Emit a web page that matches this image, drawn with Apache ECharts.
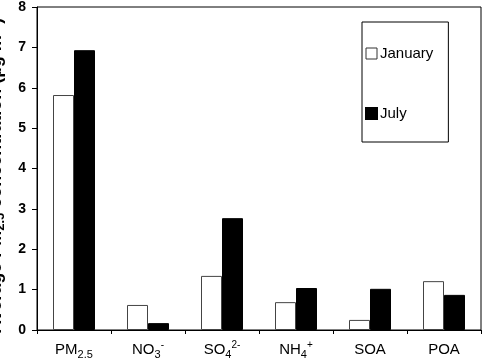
<!DOCTYPE html>
<html>
<head>
<meta charset="utf-8">
<script src="https://cdn.jsdelivr.net/npm/echarts@6/dist/echarts.min.js"></script>
<style>
  html, body { margin: 0; padding: 0; background: #fff; }
  #chart { width: 482px; height: 363px; }
</style>
</head>
<body>
<div id="chart"></div>
<script>
// species on x axis (rich-text keys used for sub/superscripts)
const categories = ["PM2.5", "NO3-", "SO42-", "NH4+", "SOA", "POA"];
const january = [5.82, 0.62, 1.34, 0.69, 0.25, 1.21];
const july = [6.93, 0.17, 2.77, 1.04, 1.02, 0.87];
const yTicks = [0, 1, 2, 3, 4, 5, 6, 7, 8];

const font = "Liberation Sans, Arial, sans-serif";

// category label -> rich text
const labelText = {
  "PM2.5": "{n|PM}{sub|2.5}",
  "NO3-": "{n|NO}{sub|3}{sup|-}",
  "SO42-": "{n|SO}{sub|4}{sup|2-}",
  "NH4+": "{n|NH}{sub|4}{sup|+}",
  "SOA": "{n|SOA}",
  "POA": "{n|POA}"
};

const chart = echarts.init(document.getElementById("chart"));
const option = {
  animation: false,
  backgroundColor: "#fff",
  textStyle: { fontFamily: font },
  grid: {
    left: 37, right: 1, top: 7, bottom: 33,
    show: true, borderColor: "#000", borderWidth: 1,
    outerBoundsMode: "none",
    containLabel: false
  },
  legend: {
    orient: "vertical",
    left: 362, top: 22,
    padding: [24, 15, 21, 3],
    itemGap: 45,
    itemWidth: 11, itemHeight: 11,
    borderColor: "#000", borderWidth: 1,
    backgroundColor: "#fff",
    textStyle: { fontFamily: font, fontSize: 15, color: "#000", padding: [0, 0, 0, -2] },
    data: [
      { name: "January", icon: "rect", itemStyle: { color: "#fff", borderColor: "#333", borderWidth: 1 } },
      { name: "July", icon: "rect", itemStyle: { color: "#000" } }
    ]
  },
  xAxis: {
    type: "category",
    data: categories,
    axisLine: { lineStyle: { color: "#000", width: 1 } },
    axisTick: { show: true, length: 4, lineStyle: { color: "#000" } },
    axisLabel: {
      interval: 0,
      margin: 10,
      formatter: v => labelText[v],
      rich: {
        n: { fontFamily: font, fontSize: 15, color: "#000", lineHeight: 20, verticalAlign: "middle" },
        sub: { fontFamily: font, fontSize: 11, color: "#000", lineHeight: 20, verticalAlign: "bottom", padding: [7, 0, 0, 0] },
        sup: { fontFamily: font, fontSize: 10, color: "#000", lineHeight: 20, verticalAlign: "top", padding: [0, 0, 7, 0] }
      }
    }
  },
  yAxis: {
    type: "value",
    min: yTicks[0], max: yTicks[yTicks.length - 1], interval: 1,
    name: "{n|Average PM}{sub|2.5}{n| concentration (\u00b5g m}{sup|-3}{n|)}",
    nameLocation: "middle",
    nameGap: 30,
    nameRotate: 90,
    nameTextStyle: {
      padding: [0, 14, 0, 0],
      rich: {
        n: { fontFamily: font, fontSize: 18, fontWeight: "bold", color: "#000", lineHeight: 22, verticalAlign: "middle" },
        sub: { fontFamily: font, fontSize: 13, fontWeight: "bold", color: "#000", lineHeight: 22, verticalAlign: "bottom", padding: [8, 0, 0, 0] },
        sup: { fontFamily: font, fontSize: 13, fontWeight: "bold", color: "#000", lineHeight: 22, verticalAlign: "top", padding: [0, 0, 8, 0] }
      }
    },
    axisLine: { show: true, lineStyle: { color: "#000", width: 1 } },
    axisTick: { show: true, inside: false, length: 5, lineStyle: { color: "#000" } },
    axisLabel: { margin: 11, fontFamily: font, fontSize: 14, fontWeight: "bold", color: "#000" },
    splitLine: { show: false }
  },
  series: [
    {
      name: "January",
      type: "bar",
      data: january,
      barWidth: 21,
      barGap: "0%",
      itemStyle: { color: "#fff", borderColor: "#444", borderWidth: 1 }
    },
    {
      name: "July",
      type: "bar",
      data: july,
      barWidth: 21,
      barGap: "0%",
      itemStyle: { color: "#000", borderColor: "#000", borderWidth: 1 }
    }
  ]
};
chart.setOption(option);
window.addEventListener("resize", () => chart.resize());
</script>
</body>
</html>
